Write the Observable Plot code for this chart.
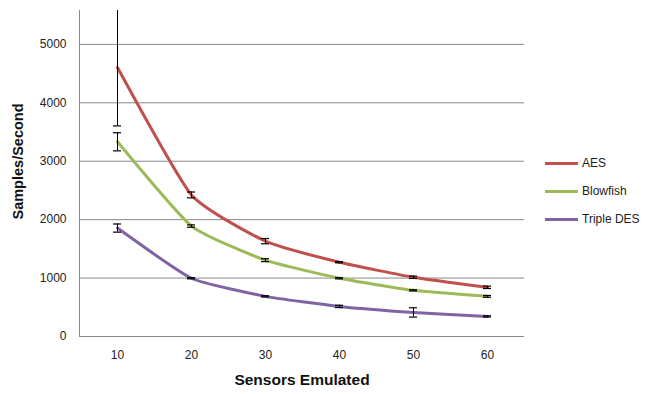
<!DOCTYPE html>
<html><head><meta charset="utf-8">
<script src="https://cdn.jsdelivr.net/npm/d3@7"></script>
<script src="https://cdn.jsdelivr.net/npm/@observablehq/plot@0.6"></script>
<style>
body{margin:0;background:#fff;font-family:"Liberation Sans",Arial,sans-serif}
#wrap{position:relative;width:646px;height:394px}
#legend{position:absolute;left:545px;top:149px;font-size:12px;color:#222}
#legend .item{display:flex;align-items:center;height:28px}
#legend .sw{width:33px;height:3px;margin-right:4px}
</style>
</head><body><div id="wrap"><div id="legend"></div></div>
<script>
const sensors = [10, 20, 30, 40, 50, 60];
const seriesNames = ["AES", "Blowfish", "Triple DES"];
const seriesColors = ["#C0504D", "#9BBB59", "#8064A2"];
const aes = [4605, 2423, 1632, 1271, 1014, 842];
const aesErr = [1000, 50, 45, 10, 20, 20];
const blowfish = [3333, 1890, 1306, 997, 790, 687];
const blowfishErr = [155, 20, 25, 10, 10, 15];
const tripleDes = [1856, 997, 687, 515, 412, 344];
const tripleDesErr = [70, 10, 10, 20, 80, 10];
const yTicks = [0, 1000, 2000, 3000, 4000, 5000];

const seriesValues = [aes, blowfish, tripleDes];
const seriesErrs = [aesErr, blowfishErr, tripleDesErr];
const rows = [];
seriesNames.forEach((name, s) => {
  sensors.forEach((x, i) => {
    const v = seriesValues[s][i], e = seriesErrs[s][i];
    rows.push({series: name, sensor: x, value: v, lo: v - e, hi: v + e});
  });
});

const chart = Plot.plot({
  width: 646,
  height: 394,
  marginLeft: 79,
  marginRight: 122,
  marginTop: 10,
  marginBottom: 58,
  style: {fontFamily: "Liberation Sans, Arial, sans-serif", fontSize: "12px", color: "#222", background: "#fff"},
  x: {type: "band", domain: sensors, padding: 0, tickSize: 0, tickPadding: 14, label: "Sensors Emulated", labelAnchor: "center", labelOffset: 48},
  y: {domain: [0, 5580], ticks: yTicks, tickSize: 0, tickPadding: 13, label: null, tickFormat: d => String(d)},
  color: {domain: seriesNames, range: seriesColors},
  marks: [
    Plot.gridY(yTicks, {stroke: "#888", strokeOpacity: 1}),
    Plot.frame({anchor: "left", stroke: "#888"}),
    Plot.line(rows, {x: "sensor", y: "value", z: "series", stroke: "series", strokeWidth: 3, curve: "cardinal", tension: 0.5}),
    Plot.ruleX(rows, {x: "sensor", y1: "lo", y2: "hi", stroke: "#000", strokeWidth: 1, clip: true}),
    Plot.tickY(rows, {x: "sensor", y: "lo", stroke: "#000", strokeWidth: 1.2, insetLeft: 33, insetRight: 33, clip: true}),
    Plot.tickY(rows, {x: "sensor", y: "hi", stroke: "#000", strokeWidth: 1.2, insetLeft: 33, insetRight: 33, clip: true}),
    Plot.text(["Samples/Second"], {frameAnchor: "left", textAnchor: "middle", rotate: -90, dx: -61, dy: -12, fontWeight: "bold", fontSize: 14.5, fill: "#111"})
  ]
});
chart.style.position = "absolute";
chart.style.left = "0";
chart.style.top = "0";
d3.select(chart).selectAll("[aria-label='x-axis label'] text, [aria-label='x-axis label']").attr("font-weight", "bold").attr("font-size", 15.5).attr("fill", "#111");
document.getElementById("wrap").prepend(chart);

const legend = d3.select("#legend");
seriesNames.forEach((n, i) => {
  const it = legend.append("div").attr("class", "item");
  it.append("div").attr("class", "sw").style("background", seriesColors[i]);
  it.append("span").text(n);
});
</script>
</body></html>
